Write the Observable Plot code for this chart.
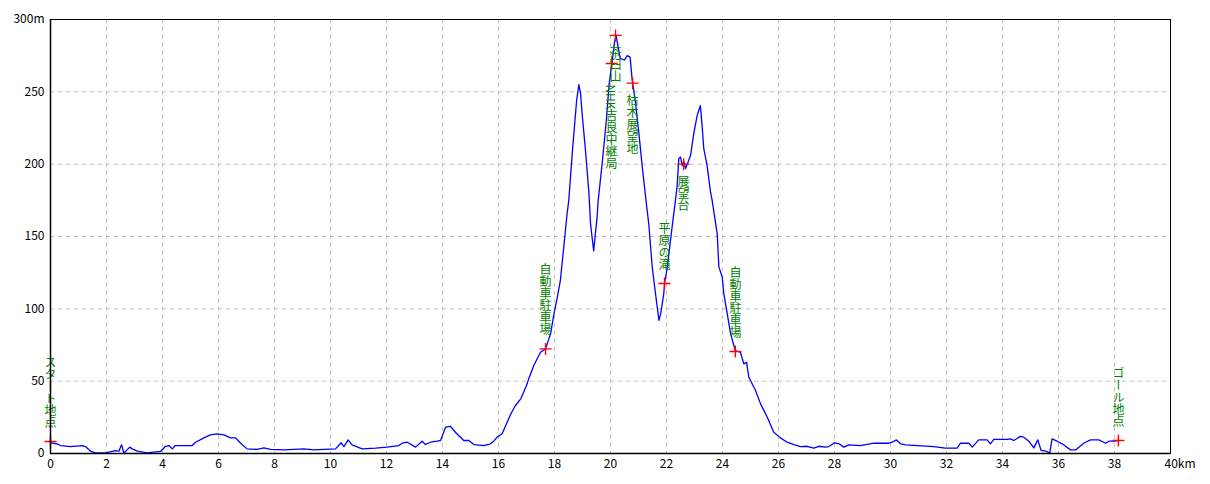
<!DOCTYPE html>
<html><head><meta charset="utf-8">
<script src="https://cdn.jsdelivr.net/npm/d3@7"></script>
<script src="https://cdn.jsdelivr.net/npm/@observablehq/plot@0.6"></script>
<style>body{margin:0;background:#fff;}</style>
</head><body><div id="chart"></div>
<script>
const distanceKm = [0,0.24,0.36,0.71,1.13,1.25,1.43,1.61,1.96,2.08,2.32,2.44,2.54,2.62,2.83,2.92,3.1,3.45,3.93,4.11,4.23,4.35,4.46,5.06,5.18,5.48,5.71,5.95,6.19,6.43,6.61,6.79,7.02,7.38,7.62,7.86,8.33,9.05,9.4,10.18,10.38,10.48,10.63,10.77,11.13,11.61,12.02,12.44,12.56,12.74,13.04,13.27,13.39,13.57,13.81,13.93,14.11,14.29,14.46,14.76,14.94,15.12,15.48,15.71,15.83,15.95,16.13,16.43,16.6,16.8,17.0,17.08,17.26,17.5,17.68,17.86,17.98,18.1,18.21,18.33,18.45,18.51,18.64,18.79,18.87,18.93,18.99,19.1,19.23,19.29,19.4,19.46,19.52,19.56,19.7,19.85,19.95,20.05,20.15,20.2,20.28,20.35,20.5,20.6,20.7,20.77,20.89,21.01,21.13,21.25,21.31,21.37,21.49,21.61,21.73,21.79,21.9,21.93,22.03,22.14,22.26,22.32,22.38,22.44,22.5,22.56,22.62,22.68,22.74,22.86,22.98,23.1,23.21,23.27,23.33,23.45,23.57,23.63,23.81,23.87,23.99,24.05,24.17,24.29,24.46,24.64,24.76,24.86,24.94,25.18,25.36,25.6,25.83,26.07,26.31,26.55,26.79,27.02,27.26,27.44,27.68,27.8,28.0,28.17,28.33,28.51,28.93,29.4,29.94,30.06,30.21,30.36,30.54,31.55,31.96,32.38,32.5,32.8,32.92,33.15,33.45,33.57,33.69,34.17,34.29,34.4,34.64,34.76,34.94,35.12,35.26,35.38,35.54,35.69,35.77,35.95,36.13,36.43,36.61,36.9,37.14,37.44,37.68,37.8,38.0,38.15];
const elevationM = [7.4,6.7,5.5,4.8,5.5,4.8,1.6,0.5,0.5,0.9,2,1.6,6,0.2,4.4,3.2,1.6,0.5,1.4,5,5.5,3.2,5.5,5.5,7.8,10.8,12.9,13.6,12.9,10.8,10.8,7.1,3.2,2.8,3.9,2.8,2.5,3.2,2.5,3.2,7.4,4.8,9.4,6,3.2,3.7,4.4,5.5,7.1,7.8,4.4,8.5,6.2,7.8,8.5,9,18.2,18.7,14.7,9,9,6.2,5.5,6.7,8.5,11.3,13.6,27,33,38,47,51.6,60.8,70,72.3,82.7,96.5,108,119.6,142.6,165.7,175,209,244,255,249,234,211,180,158,140,152,163,175,200,230,255,270,285,289,280,273,272,275,274,259,243,222,199,178,168,158,129,110,92,96.5,110,117.5,129,147,166,175,185,204,205,199,202,197,200,206,222,234,240.5,227,211,199,181,175,152,129,122,110,96.5,82.7,71,70,62,63,52.7,43.5,34.3,25,14.7,10.8,7.8,6.2,4.8,5,3.7,5,4.4,4.8,7.4,6.7,4.4,6,5.5,7.1,7.1,7.8,9.4,6.7,6,4.8,3.7,3.7,7.1,7.1,4.4,9.4,9.4,6.7,9.7,9.7,10.1,9,11.8,11.3,8.5,3.9,9.4,2.1,1.6,0.5,10.1,8.5,6.7,2.5,2.5,7.1,9.4,9.4,7.1,8.5,8.5,9];

const pointNames = ["スタート地点","自動車駐車場","NHK吉良中継局","茶臼山","枯木展望地","平原の滝","展望台","自動車駐車場","ゴール地点"];
const pointKm = [0,17.68,20.04,20.18,20.79,21.93,22.61,24.46,38.14];
const pointElev = [8.3,72.3,269.6,289,256,117.5,200,70.5,9];

const xTicks = d3.range(0, 40, 2);
const yTicks = d3.range(0, 301, 50);

const W = 1210, H = 484, ML = 50, MR = 40, MT = 19, MB = 31;
const FS = 12;

const profile = distanceKm.map((d, i) => ({km: d, elev: elevationM[i]}));
const points = pointNames.map((n, i) => ({name: n, km: pointKm[i], elev: pointElev[i]}));

// simple label layout: labels below high points, pushed down when they collide
const xs = d3.scaleLinear([0, 40], [ML, W - MR]);
const ys = d3.scaleLinear([0, 300], [H - MB, MT]);
const textLen = s => [...s].reduce((a, c) => a + (/[\u0000-\u00ff]/.test(c) ? FS * 0.6 : FS), 0);
const above = points.filter(p => p.elev < 150);
const below = points.filter(p => p.elev >= 150).sort((a, b) => b.elev - a.elev);
const placed = [];
for (const p of below) {
  const px = xs(p.km);
  let top = ys(p.elev) + 11;
  for (const q of placed) {
    if (Math.abs(q.px - px) < FS && top < q.bottom && top + textLen(p.name) > q.top) top = q.bottom + 2;
  }
  placed.push({px, top, bottom: top + textLen(p.name)});
  p.labelY = ys.invert(top);
}

const cross = {draw(ctx) { const r = 6; ctx.moveTo(-r, 0); ctx.lineTo(r, 0); ctx.moveTo(0, -r); ctx.lineTo(0, r); }};

const chart = Plot.plot({
  width: W, height: H,
  marginLeft: ML, marginRight: MR, marginTop: MT, marginBottom: MB,
  style: {fontFamily: '"Noto Sans CJK JP", sans-serif', fontSize: "12px", background: "#fff", color: "#000"},
  x: {domain: [0, 40], ticks: xTicks, tickSize: 0, tickPadding: 6, label: null},
  y: {domain: [0, 300], ticks: yTicks, tickSize: 0, tickPadding: 6, label: null,
      tickFormat: d => d === 300 ? "300m" : String(d)},
  marks: [
    Plot.ruleX(xTicks.filter(d => d > 0), {stroke: "#c0c0c0", strokeDasharray: "4,4"}),
    Plot.ruleY(yTicks.filter(d => d > 0 && d < 300), {stroke: "#c0c0c0", strokeDasharray: "4,4"}),
    Plot.line(profile, {x: "km", y: "elev", stroke: "#0000ff", strokeWidth: 1.3}),
    Plot.dot(points, {x: "km", y: "elev", symbol: cross, stroke: "#ff0000", strokeWidth: 1.4, r: 6}),
    Plot.text(above, {x: "km", y: "elev", text: "name", textAnchor: "end", lineAnchor: "bottom", dy: -13, fill: "#008000", fontSize: FS}),
    Plot.text(below, {x: "km", y: "labelY", text: "name", textAnchor: "start", lineAnchor: "bottom", fill: "#008000", fontSize: FS}),
    Plot.ruleX([0], {stroke: "#000", strokeWidth: 1.5}),
    Plot.ruleY([0], {stroke: "#000", strokeWidth: 1.5}),
    Plot.frame({stroke: "#000"}),
    Plot.text([40], {x: d => d, y: () => 0, text: () => "40km", textAnchor: "start", lineAnchor: "top", dx: -6, dy: 6, fill: "#000", fontSize: 12})
  ]
});

chart.querySelectorAll("text").forEach(t => {
  if (/[\u3000-\u9fff]/.test(t.textContent)) t.style.writingMode = "vertical-rl";
});
document.getElementById("chart").append(chart);
</script>
</body></html>
